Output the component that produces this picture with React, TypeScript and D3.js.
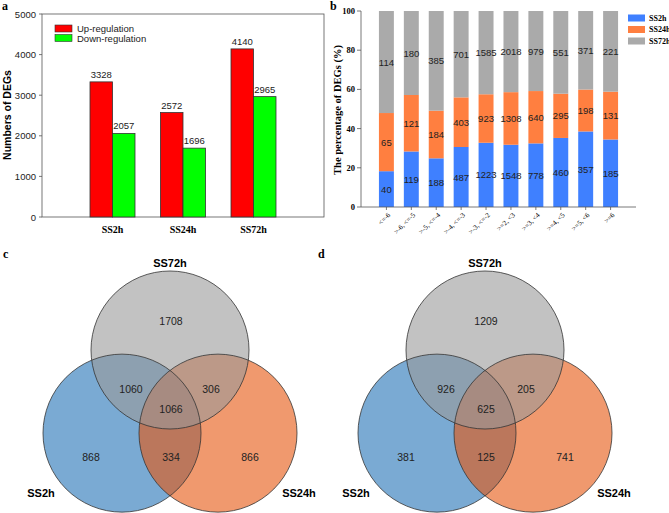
import React from "react";
import * as d3 from "d3";

// Panel a
const groupsA = ["SS2h", "SS24h", "SS72h"];
const upReg = [3328, 2572, 4140];
const downReg = [2057, 1696, 2965];
const ticksA = [0, 1000, 2000, 3000, 4000, 5000];

// Panel b
const binsB = ["<=-6", ">-6, <=-5", ">-5, <=-4", ">-4, <=-3", ">-3, <=-2", ">=2, <3", ">=3, <4", ">=4, <5", ">=5, <6", ">=6"];
const ss2hB = [40, 119, 188, 487, 1223, 1548, 778, 460, 357, 185];
const ss24hB = [65, 121, 184, 403, 923, 1308, 640, 295, 198, 131];
const ss72hB = [114, 180, 385, 701, 1585, 2018, 979, 551, 371, 221];
const seriesB = ["SS2h", "SS24h", "SS72h"];
const ticksB = [0, 20, 40, 60, 80, 100];

// Venn c and d: [SS72h only, SS2h∩SS72h, SS24h∩SS72h, all, SS2h only, SS2h∩SS24h, SS24h only]
const vennC = [1708, 1060, 306, 1066, 868, 334, 866];
const vennD = [1209, 926, 205, 625, 381, 125, 741];
const vennSets = ["SS72h", "SS2h", "SS24h"];

const SANS = "Liberation Sans, Arial, sans-serif";
const SERIF = "Liberation Serif, Times New Roman, serif";

function PanelA() {
  const y = d3.scaleLinear().domain([0, 5000]).range([217, 14]);
  const x = d3.scaleLinear().domain([0, 4]).range([42, 324]);
  const bw = 22.5;
  return (
    <g>
      <text x={2} y={10} fontFamily={SERIF} fontWeight="bold" fontSize={12}>a</text>
      <rect x={42} y={14} width={282} height={203} fill="none" stroke="#555" strokeWidth={0.8} />
      {ticksA.map((t) => (
        <g key={t}>
          <line x1={39} x2={42} y1={y(t)} y2={y(t)} stroke="#555" strokeWidth={0.8} />
          <text x={36} y={y(t)} textAnchor="end" dominantBaseline="central" fontFamily={SANS} fontSize={9.5} fill="#222">{t}</text>
        </g>
      ))}
      <text transform={`translate(7,${115}) rotate(-90)`} textAnchor="middle" dominantBaseline="central" fontFamily={SANS} fontWeight="bold" fontSize={10.5}>Numbers of DEGs</text>
      {groupsA.map((g, i) => {
        const cx = x(i + 1);
        return (
          <g key={g}>
            <rect x={cx - bw} y={y(upReg[i])} width={bw} height={y(0) - y(upReg[i])} fill="#ff0000" stroke="#333" strokeWidth={0.8} />
            <rect x={cx} y={y(downReg[i])} width={bw} height={y(0) - y(downReg[i])} fill="#00ff00" stroke="#333" strokeWidth={0.8} />
            <text x={cx - bw / 2} y={y(upReg[i]) - 4} textAnchor="middle" fontFamily={SANS} fontSize={9.5} fill="#222">{upReg[i]}</text>
            <text x={cx + bw / 2} y={y(downReg[i]) - 4} textAnchor="middle" fontFamily={SANS} fontSize={9.5} fill="#222">{downReg[i]}</text>
            <text x={cx} y={233} textAnchor="middle" fontFamily={SERIF} fontWeight="bold" fontSize={10}>{g}</text>
          </g>
        );
      })}
      <rect x={55} y={25} width={17} height={7} fill="#ff0000" stroke="#333" strokeWidth={0.6} />
      <rect x={55} y={34.5} width={17} height={7} fill="#00ff00" stroke="#333" strokeWidth={0.6} />
      <text x={77} y={28.5} dominantBaseline="central" fontFamily={SANS} fontSize={9.5} fill="#222">Up-regulation</text>
      <text x={77} y={38} dominantBaseline="central" fontFamily={SANS} fontSize={9.5} fill="#222">Down-regulation</text>
    </g>
  );
}

function PanelB() {
  const y = d3.scaleLinear().domain([0, 100]).range([207, 11]);
  const x = d3.scaleBand().domain(binsB).range([361, 636]).paddingInner(0.4).paddingOuter(0.72);
  const colors = ["#3f80ff", "#ff7f40", "#aaaaaa"];
  const data = binsB.map((b, i) => ({ b, SS2h: ss2hB[i], SS24h: ss24hB[i], SS72h: ss72hB[i] }));
  const stack = d3.stack<any>().keys(seriesB).offset(d3.stackOffsetExpand);
  const layers = stack(data);
  return (
    <g>
      <text x={330} y={10} fontFamily={SERIF} fontWeight="bold" fontSize={12}>b</text>
      {layers.map((layer, li) => (
        <g key={li}>
          {layer.map((d, i) => {
            const y0 = y(d[0] * 100);
            const y1 = y(d[1] * 100);
            const x0 = x(binsB[i])!;
            return (
              <g key={i}>
                <rect x={x0} y={y1} width={x.bandwidth()} height={y0 - y1} fill={colors[li]} />
                <text x={x0 + x.bandwidth() / 2} y={(y0 + y1) / 2} textAnchor="middle" dominantBaseline="central" fontFamily={SANS} fontSize={9.5} fill="#222">{(d.data as any)[seriesB[li]]}</text>
              </g>
            );
          })}
        </g>
      ))}
      <line x1={361} x2={361} y1={11} y2={207} stroke="#555" strokeWidth={0.8} />
      <line x1={361} x2={636} y1={207} y2={207} stroke="#555" strokeWidth={0.8} />
      {ticksB.map((t) => (
        <g key={t}>
          <line x1={357} x2={361} y1={y(t)} y2={y(t)} stroke="#555" strokeWidth={0.8} />
          <text x={355} y={y(t)} textAnchor="end" dominantBaseline="central" fontFamily={SERIF} fontWeight="bold" fontSize={8.5}>{t}</text>
        </g>
      ))}
      {binsB.map((b) => {
        const cx = x(b)! + x.bandwidth() / 2;
        return (
          <g key={b}>
            <line x1={cx} x2={cx} y1={207} y2={210} stroke="#555" strokeWidth={0.8} />
            <text transform={`translate(${cx + 3},${214}) rotate(-45)`} textAnchor="end" dominantBaseline="central" fontFamily={SERIF} fontSize={7}>{b}</text>
          </g>
        );
      })}
      <text transform={`translate(337,110) rotate(-90)`} textAnchor="middle" dominantBaseline="central" fontFamily={SERIF} fontWeight="bold" fontSize={10.5}>The percentage of DEGs (%)</text>
      {seriesB.map((s, i) => (
        <g key={s}>
          <rect x={628} y={14.5 + i * 11.5} width={17} height={7} fill={colors[i]} />
          <text x={649} y={18 + i * 11.5} dominantBaseline="central" fontFamily={SERIF} fontWeight="bold" fontSize={8}>{s}</text>
        </g>
      ))}
    </g>
  );
}

function Venn({ ox, label, values }: { ox: number; label: string; values: number[] }) {
  const gx = 170 + ox;
  const gy = 350;
  const r = 79;
  const side = 96;
  const h = side * Math.sqrt(3) / 2;
  const circles = [
    { name: vennSets[1], cx: gx - side / 2, cy: gy + h, color: "#2171b5" },
    { name: vennSets[2], cx: gx + side / 2, cy: gy + h, color: "#e6550d" },
    { name: vennSets[0], cx: gx, cy: gy, color: "#999999" },
  ];
  const offsets = [
    [1, -29], [-39, 39], [41, 39], [1, 59], [-79, 107], [1, 107], [80, 107],
  ];
  return (
    <g>
      <text x={ox + 3} y={258} fontFamily={SERIF} fontWeight="bold" fontSize={12}>{label}</text>
      {circles.map((c) => (
        <circle key={c.name} cx={c.cx} cy={c.cy} r={r} fill={c.color} fillOpacity={0.6} />
      ))}
      {circles.map((c) => (
        <circle key={c.name + "s"} cx={c.cx} cy={c.cy} r={r} fill="none" stroke="#333" strokeWidth={0.8} />
      ))}
      {values.map((v, i) => (
        <text key={i} x={gx + offsets[i][0]} y={gy + offsets[i][1]} textAnchor="middle" dominantBaseline="central" fontFamily={SANS} fontSize={10.5} fill="#222">{v}</text>
      ))}
      <text x={gx} y={263} textAnchor="middle" dominantBaseline="central" fontFamily={SANS} fontWeight="bold" fontSize={11}>{vennSets[0]}</text>
      <text x={gx - 129} y={493} textAnchor="middle" dominantBaseline="central" fontFamily={SANS} fontWeight="bold" fontSize={11}>{vennSets[1]}</text>
      <text x={gx + 129} y={493} textAnchor="middle" dominantBaseline="central" fontFamily={SANS} fontWeight="bold" fontSize={11}>{vennSets[2]}</text>
    </g>
  );
}

export default function App() {
  return (
    <svg width={669} height={513} style={{ position: "absolute", left: 0, top: 0, background: "#fff" }}>
      <rect width={669} height={513} fill="#fff" />
      <PanelA />
      <PanelB />
      <Venn ox={0} label="c" values={vennC} />
      <Venn ox={315} label="d" values={vennD} />
    </svg>
  );
}
